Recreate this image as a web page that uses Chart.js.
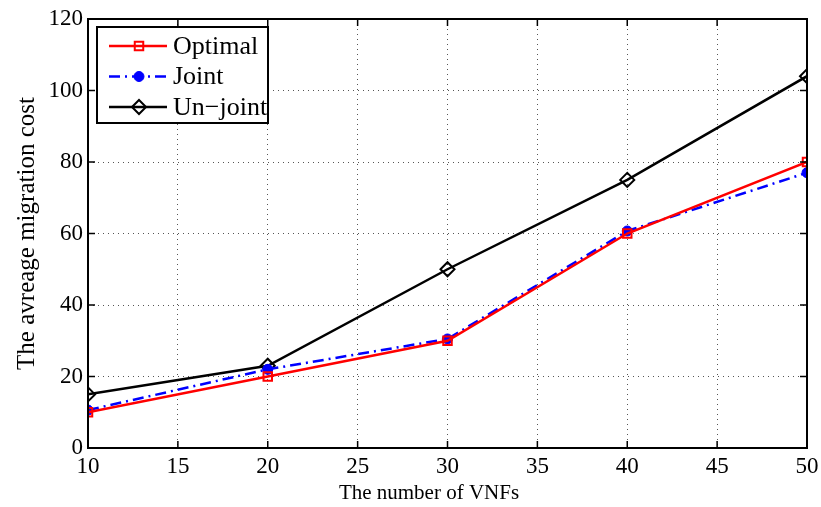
<!DOCTYPE html>
<html>
<head>
<meta charset="utf-8">
<script src="https://cdn.jsdelivr.net/npm/chart.js@4/dist/chart.umd.min.js"></script>
<style>
  html, body { margin: 0; padding: 0; background: #fff; }
  #wrap { width: 821px; height: 507px; }
</style>
</head>
<body>
<div id="wrap"><canvas id="chart" width="821" height="507"></canvas></div>
<script>
const vnfs = [10, 20, 30, 40, 50];
const optimal = [10, 20, 30, 60, 80];
const joint = [10.6, 22, 30.5, 60.7, 77];
const unjoint = [15, 23, 50, 75, 104];
const xTicks = [10, 15, 20, 25, 30, 35, 40, 45, 50];
const yTicks = [0, 20, 40, 60, 80, 100, 120];
const xTitle = 'The number of VNFs';
const yTitle = 'The avreage migration cost';

const serif = '"Liberation Serif", "DejaVu Serif", serif';

function points(values) {
  return vnfs.map((x, i) => ({ x: x, y: values[i] }));
}

// box round the plot with ticks pointing in, like matlab
const framePlugin = {
  id: 'frame',
  afterDraw(chart) {
    const { ctx, chartArea: a, scales } = chart;
    ctx.save();
    ctx.strokeStyle = '#000';
    ctx.lineWidth = 2;
    ctx.strokeRect(a.left, a.top, a.right - a.left, a.bottom - a.top);
    ctx.lineWidth = 1.5;
    ctx.beginPath();
    xTicks.forEach(v => {
      const px = scales.x.getPixelForValue(v);
      ctx.moveTo(px, a.bottom); ctx.lineTo(px, a.bottom - 7);
      ctx.moveTo(px, a.top); ctx.lineTo(px, a.top + 7);
    });
    yTicks.forEach(v => {
      const py = scales.y.getPixelForValue(v);
      ctx.moveTo(a.left, py); ctx.lineTo(a.left + 7, py);
      ctx.moveTo(a.right, py); ctx.lineTo(a.right - 7, py);
    });
    ctx.stroke();
    // x title sits a bit left of centre in the original
    ctx.fillStyle = '#000';
    ctx.font = '21px ' + serif;
    ctx.textAlign = 'center';
    ctx.textBaseline = 'middle';
    ctx.fillText(xTitle, 429, 493);
    ctx.restore();
  }
};

// legend drawn inside the plot, top left corner
const legendPlugin = {
  id: 'boxLegend',
  afterDraw(chart) {
    const { ctx } = chart;
    const x0 = 97, y0 = 27, w = 171, h = 96;
    ctx.save();
    ctx.fillStyle = '#fff';
    ctx.fillRect(x0, y0, w, h);
    ctx.strokeStyle = '#000';
    ctx.lineWidth = 2;
    ctx.strokeRect(x0, y0, w, h);
    ctx.font = '26px ' + serif;
    ctx.textBaseline = 'middle';
    chart.data.datasets.forEach((ds, i) => {
      const cy = y0 + 19 + i * 30.5;
      ctx.strokeStyle = ds.borderColor;
      ctx.lineWidth = ds.borderWidth;
      ctx.setLineDash(ds.borderDash || []);
      ctx.beginPath();
      ctx.moveTo(x0 + 12, cy); ctx.lineTo(x0 + 70, cy);
      ctx.stroke();
      ctx.setLineDash([]);
      ctx.strokeStyle = ds.pointBorderColor;
      ctx.fillStyle = ds.pointBackgroundColor;
      ctx.lineWidth = ds.pointBorderWidth;
      Chart.helpers.drawPoint(ctx, {
        pointStyle: ds.pointStyle, radius: ds.pointRadius, rotation: 0,
        borderWidth: ds.pointBorderWidth
      }, x0 + 42, cy);
      ctx.fillStyle = '#000';
      ctx.fillText(ds.label, x0 + 76, cy + 1);
    });
    ctx.restore();
  }
};

new Chart(document.getElementById('chart'), {
  type: 'line',
  data: {
    datasets: [
      {
        label: 'Optimal', data: points(optimal),
        borderColor: '#ff0000', borderWidth: 2.5,
        pointStyle: 'rect', pointRadius: 6, pointBorderWidth: 2,
        pointBackgroundColor: 'rgba(255,255,255,0)', pointBorderColor: '#ff0000'
      },
      {
        label: 'Joint', data: points(joint),
        borderColor: '#0000ff', borderWidth: 2.5, borderDash: [11, 5, 2, 5],
        pointStyle: 'circle', pointRadius: 5, pointBorderWidth: 1,
        pointBackgroundColor: '#0000ff', pointBorderColor: '#0000ff'
      },
      {
        label: 'Un\u2212joint', data: points(unjoint),
        borderColor: '#000000', borderWidth: 2.5,
        pointStyle: 'rectRot', pointRadius: 7, pointBorderWidth: 2,
        pointBackgroundColor: 'rgba(255,255,255,0)', pointBorderColor: '#000000'
      }
    ]
  },
  options: {
    responsive: false,
    animation: false,
    layout: { padding: { top: 19, right: 14, left: 0, bottom: 0 } },
    plugins: { legend: { display: false }, tooltip: { enabled: false } },
    scales: {
      x: {
        type: 'linear', min: 10, max: 50,
        afterBuildTicks: s => { s.ticks = xTicks.map(v => ({ value: v })); },
        afterFit: s => { s.height = 59; s.paddingLeft = 0; s.paddingRight = 0; },
        grid: { color: '#555', lineWidth: 1, drawTicks: false },
        border: { display: false, dash: [1, 4] },
        ticks: { color: '#000', font: { family: serif, size: 23 }, padding: 5 }
      },
      y: {
        min: 0, max: 120,
        afterBuildTicks: s => { s.ticks = yTicks.map(v => ({ value: v })); },
        afterFit: s => { s.width = 88; s.paddingTop = 0; s.paddingBottom = 0; },
        grid: { color: '#555', lineWidth: 1, drawTicks: false },
        border: { display: false, dash: [1, 4] },
        ticks: { color: '#000', font: { family: serif, size: 23 }, padding: 5 },
        title: { display: true, text: yTitle, color: '#000',
                 font: { family: serif, size: 25 }, padding: { top: 12, bottom: 0 } }
      }
    }
  },
  plugins: [framePlugin, legendPlugin]
});
</script>
</body>
</html>
